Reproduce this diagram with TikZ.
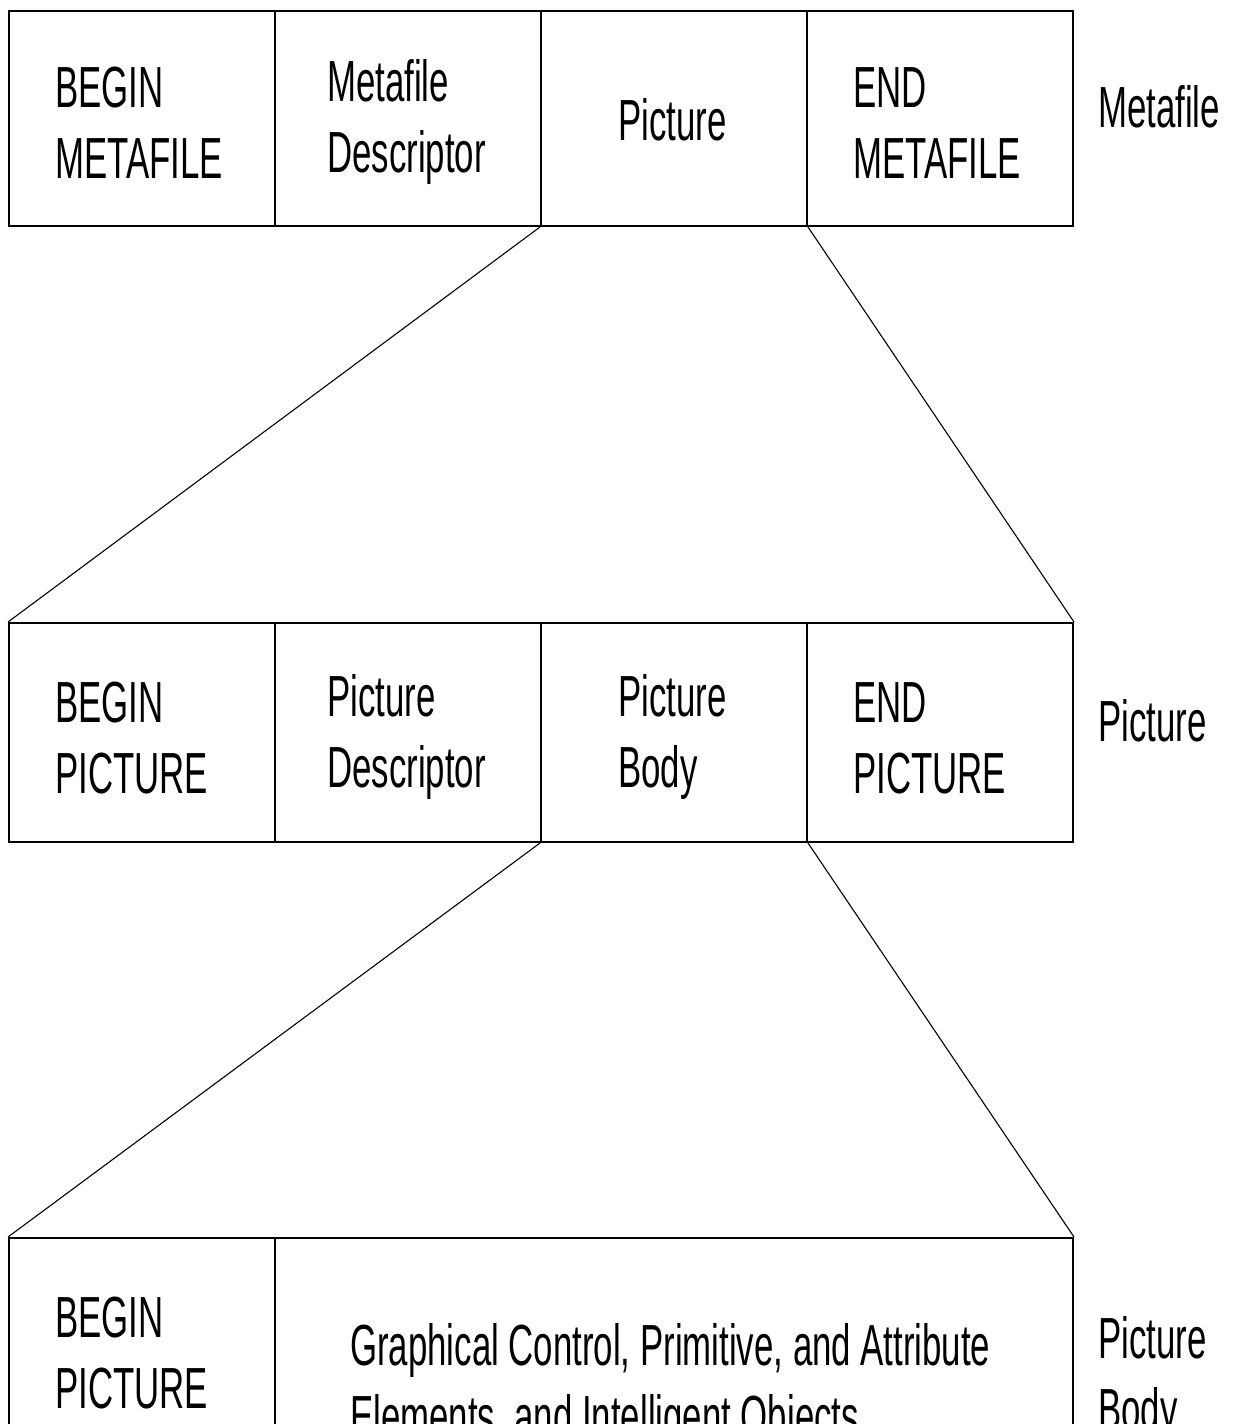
\documentclass[tikz,border=0pt]{standalone}
\usepackage{fontspec}
\setmainfont{Liberation Sans}[FakeStretch=0.6]
\begin{document}
\begin{tikzpicture}[x=1pt,y=-1pt,
  cell/.style={draw, line width=2pt, rectangle, anchor=north west, inner sep=0pt,
               minimum width=266pt},
  fan/.style={line width=1.1pt},
  txt/.style={anchor=base west, inner sep=0pt, align=left,
              font=\fontsize{58}{71}\selectfont}]
\useasboundingbox (0,0) rectangle (1234,1424);
\clip (0,0) rectangle (1234,1424);

% level 1: metafile (two-line texts are placed by the baseline of their last line)
\node[cell, minimum height=215pt] (m1) at (8,10) {};
\node[cell, minimum height=215pt] (m2) at (274,10) {};
\node[cell, minimum height=215pt] (m3) at (540,10) {};
\node[cell, minimum height=215pt] (m4) at (806,10) {};
\node[txt] (tm1) at (55,178) {BEGIN\\METAFILE};
\node[txt] (tm2) at (327,172) {Metafile\\Descriptor};
\node[txt] (tm3) at (618,140) {Picture};
\node[txt] (tm4) at (853,178) {END\\METAFILE};
\node[txt] (lm) at (1098,127) {Metafile};

% level 2: picture
\node[cell, minimum height=219pt] (p1) at (8,622) {};
\node[cell, minimum height=219pt] (p2) at (274,622) {};
\node[cell, minimum height=219pt] (p3) at (540,622) {};
\node[cell, minimum height=219pt] (p4) at (806,622) {};
\node[txt] (tp1) at (55,793) {BEGIN\\PICTURE};
\node[txt] (tp2) at (327,787) {Picture\\Descriptor};
\node[txt] (tp3) at (618,787) {Picture\\Body};
\node[txt] (tp4) at (853,793) {END\\PICTURE};
\node[txt] (lp) at (1098,741) {Picture};

% level 3: picture body
\node[cell, minimum height=300pt] (b1) at (8,1237) {};
\node[cell, minimum height=300pt, minimum width=798pt] (b2) at (274,1237) {};
\node[txt] (tb1) at (55,1408) {BEGIN\\PICTURE};
\node[txt] (tb2) at (350,1436) {Graphical Control, Primitive, and Attribute\\Elements, and Intelligent Objects};
\node[txt] (lb) at (1098,1429) {Picture\\Body};

% expansion lines
\draw[fan] (m3.south west) -- (p1.north west);
\draw[fan] (m3.south east) -- (p4.north east);
\draw[fan] (p3.south west) -- (b1.north west);
\draw[fan] (p3.south east) -- (b2.north east);
\end{tikzpicture}
\end{document}
